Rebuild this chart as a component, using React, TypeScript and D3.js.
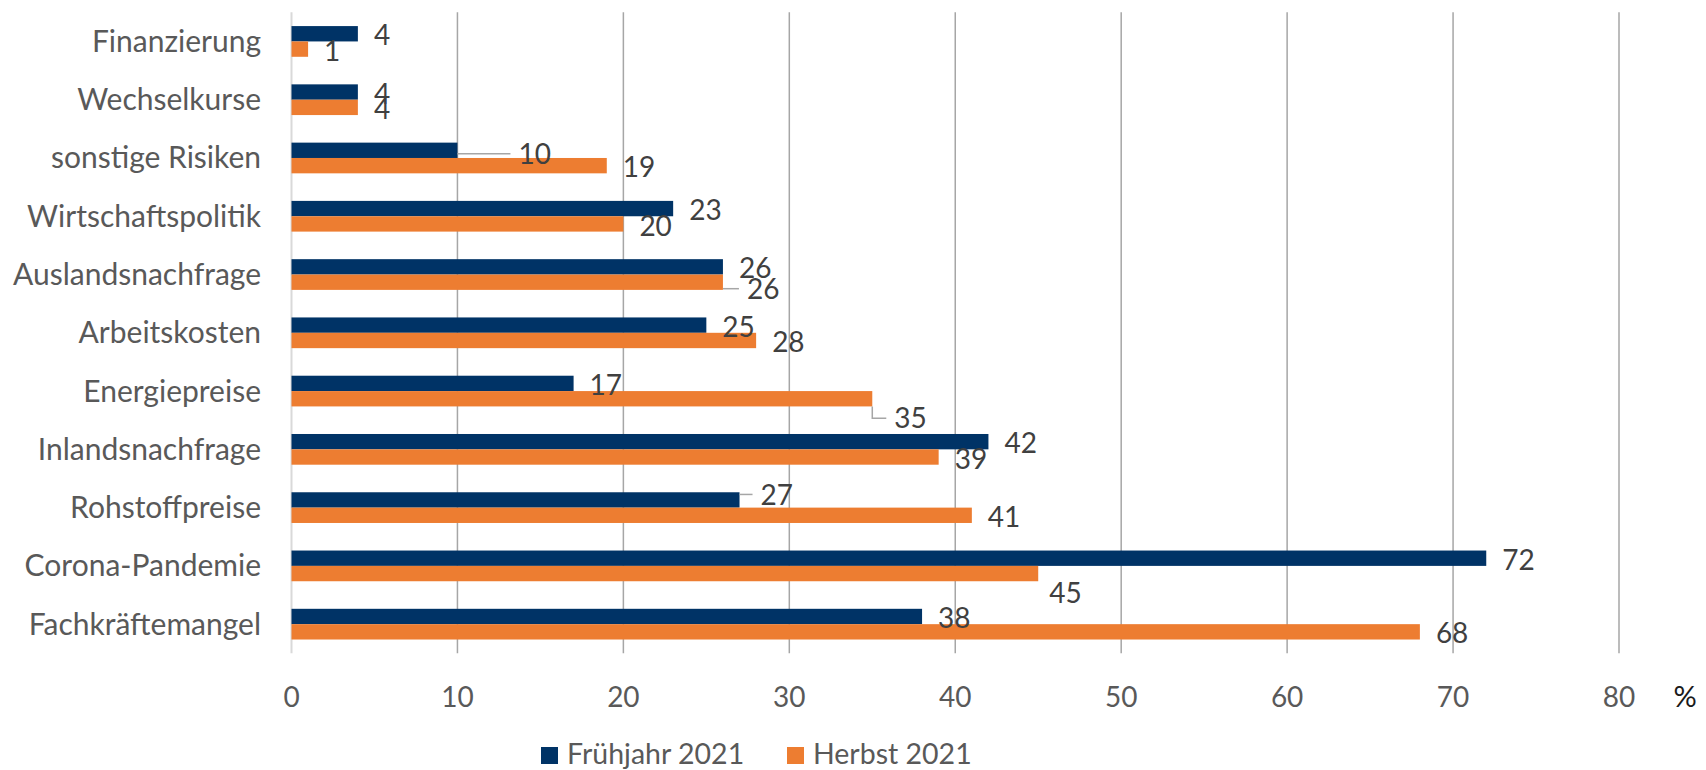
import React, { useEffect } from 'react';
import * as d3 from 'd3';

// Risiken für die Geschäftsentwicklung, Anteil der Nennungen in %
const categories = [
  'Finanzierung',
  'Wechselkurse',
  'sonstige Risiken',
  'Wirtschaftspolitik',
  'Auslandsnachfrage',
  'Arbeitskosten',
  'Energiepreise',
  'Inlandsnachfrage',
  'Rohstoffpreise',
  'Corona-Pandemie',
  'Fachkräftemangel',
];
const fruehjahr = [4, 4, 10, 23, 26, 25, 17, 42, 27, 72, 38];
const herbst = [1, 4, 19, 20, 26, 28, 35, 39, 41, 45, 68];
const seriesNames = ['Frühjahr 2021', 'Herbst 2021'];
const xTicks = [0, 10, 20, 30, 40, 50, 60, 70, 80];

// hand-moved data labels (like in the original), key = series:category index
const labelNudge: Record<string, { dx: number; dy: number; leader: boolean }> = {
  '0:2': { dx: 45, dy: 2, leader: true },
  '1:4': { dx: 8, dy: 5, leader: true },
  '1:6': { dx: 6, dy: 18, leader: true },
  '0:8': { dx: 5, dy: -7, leader: true },
  '1:9': { dx: -5, dy: 18, leader: false },
};

const W = 1706;
const H = 770;
const colors = ['#003366', '#ED7D31'];
const font = 'Lato, "Open Sans", sans-serif';

export default function App() {
  useEffect(() => {
    document.body.style.margin = '0';
  }, []);

  const x = d3.scaleLinear().domain([0, 80]).range([291.5, 1619]);
  const y = d3.scaleBand<string>()
    .domain(categories)
    .range([12.3, 653.3])
    .paddingInner(0.473)
    .paddingOuter(0.2365);
  const ySub = d3.scaleBand<number>().domain([0, 1]).range([0, y.bandwidth()]);

  const series = [fruehjahr, herbst];

  return (
    <svg width={W} height={H} style={{ display: 'block', background: '#fff' }} fontFamily={font}>
      {/* grid */}
      {xTicks.map(t => (
        <line
          key={'g' + t}
          x1={x(t)}
          x2={x(t)}
          y1={12.3}
          y2={653.3}
          stroke={t === 0 ? '#D9D9D9' : '#A6A6A6'}
          strokeWidth={t === 0 ? 2 : 1.5}
        />
      ))}

      {/* bars */}
      {series.map((vals, s) =>
        vals.map((v, i) => (
          <rect
            key={`b${s}-${i}`}
            x={x(0)}
            y={(y(categories[i]) as number) + (ySub(s) as number)}
            width={x(v) - x(0)}
            height={ySub.bandwidth()}
            fill={colors[s]}
          />
        ))
      )}

      {/* data labels */}
      {series.map((vals, s) =>
        vals.map((v, i) => {
          const top = (y(categories[i]) as number) + (ySub(s) as number);
          const bh = ySub.bandwidth();
          const nudge = labelNudge[`${s}:${i}`] || { dx: 0, dy: 0, leader: false };
          const lx = x(v) + 16 + nudge.dx;
          const ly = top + bh / 2 + 1.5 + nudge.dy;
          const sy = Math.max(top, Math.min(top + bh, ly));
          return (
            <g key={`l${s}-${i}`}>
              {nudge.leader && (
                <path
                  d={`M${x(v)},${sy}V${ly}H${lx - 8}`}
                  fill="none"
                  stroke="#A6A6A6"
                  strokeWidth={1.5}
                />
              )}
              <text x={lx} y={ly} dy="0.36em" fontSize={28} fill="#404040">
                {v}
              </text>
            </g>
          );
        })
      )}

      {/* category labels */}
      {categories.map(c => (
        <text
          key={c}
          x={261}
          y={(y(c) as number) + y.bandwidth() / 2}
          dy="0.35em"
          textAnchor="end"
          fontSize={30}
          fill="#595959"
        >
          {c}
        </text>
      ))}

      {/* x tick labels */}
      {xTicks.map(t => (
        <text key={'t' + t} x={x(t)} y={706.7} textAnchor="middle" fontSize={28} fill="#595959">
          {t}
        </text>
      ))}
      <text x={1673.6} y={706.7} fontSize={29} fill="#1a1a1a">
        %
      </text>

      {/* legend */}
      {seriesNames.map((n, s) => {
        const lx = [541, 787][s];
        return (
          <g key={n}>
            <rect x={lx} y={747} width={17} height={17} fill={colors[s]} />
            <text x={lx + 26} y={764} fontSize={28.5} fill="#595959">
              {n}
            </text>
          </g>
        );
      })}
    </svg>
  );
}
